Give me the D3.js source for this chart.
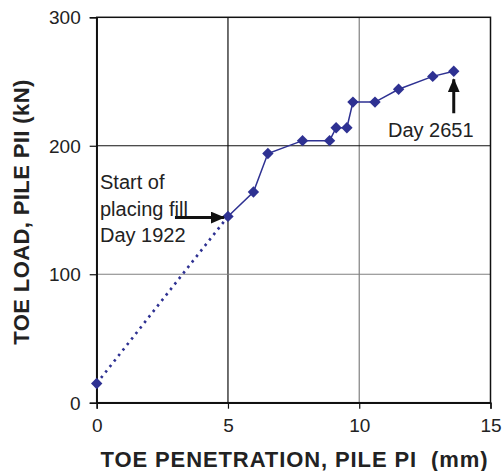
<!DOCTYPE html>
<html>
<head>
<meta charset="utf-8">
<script src="https://cdn.jsdelivr.net/npm/d3@7/dist/d3.min.js"></script>
<style>
  html, body { margin: 0; padding: 0; background: #fff; }
  svg { display: block; font-family: "Liberation Sans", Arial, sans-serif; }
</style>
</head>
<body>
<svg id="chart" width="503" height="471"></svg>
<script>
// Toe penetration (mm) vs toe load (kN)
const penetration = [0, 5, 5.97, 6.52, 7.84, 8.87, 9.12, 9.53, 9.76, 10.6, 11.5, 12.8, 13.6];
const toeLoad     = [15, 145, 164, 194, 204, 204, 214, 214, 234, 234, 244, 254, 258];
const xTicks = [0, 5, 10, 15];
const yTicks = [0, 100, 200, 300];
const xTitle = "TOE PENETRATION, PILE PI  (mm)";
const yTitle = "TOE LOAD, PILE PII (kN)";
const fillNote = ["Start of", "placing fill", "Day 1922"];
const endNote = "Day 2651";

const svg = d3.select("#chart");
const plot = { left: 96.7, right: 490.5, top: 17.3, bottom: 402.7 };

const x = d3.scaleLinear().domain([0, 15]).range([plot.left, plot.right]);
const y = d3.scaleLinear().domain([0, 300]).range([plot.bottom, plot.top]);

const blue = "#2e3192";

// grid
const grid = svg.append("g");
grid.selectAll(".vg").data(xTicks.slice(1, -1)).join("line")
  .attr("x1", d => x(d)).attr("x2", d => x(d))
  .attr("y1", plot.top).attr("y2", plot.bottom)
  .attr("stroke", (d, i) => i === 0 ? "#111" : "#808080").attr("stroke-width", 1.2);
grid.selectAll(".hg").data(yTicks.slice(1, -1)).join("line")
  .attr("x1", plot.left).attr("x2", plot.right)
  .attr("y1", d => y(d)).attr("y2", d => y(d))
  .attr("stroke", (d, i) => i === 0 ? "#808080" : "#111").attr("stroke-width", 1.2);

// frame
svg.append("rect").attr("x", plot.left).attr("y", plot.top)
  .attr("width", plot.right - plot.left).attr("height", plot.bottom - plot.top)
  .attr("fill", "none").attr("stroke", "#111").attr("stroke-width", 1.5);

// axes
const xAxis = svg.append("g").attr("transform", `translate(0,${plot.bottom})`)
  .call(d3.axisBottom(x).tickValues(xTicks).tickSize(6).tickPadding(10).tickFormat(d3.format("d")));
const yAxis = svg.append("g").attr("transform", `translate(${plot.left},0)`)
  .call(d3.axisLeft(y).tickValues(yTicks).tickSize(7).tickPadding(9).tickFormat(d3.format("d")));
[xAxis, yAxis].forEach(a => {
  a.select(".domain").attr("stroke", "#111").attr("stroke-width", 1.5);
  a.selectAll(".tick line").attr("stroke", "#111").attr("stroke-width", 1.2);
  a.selectAll(".tick text").attr("fill", "#222").attr("font-size", 19)
    .attr("font-family", "Liberation Sans, Arial, sans-serif");
});
yAxis.selectAll(".tick text").attr("dy", "0.35em");

// axis titles
svg.append("text").attr("x", 294.5).attr("y", 466.5)
  .attr("text-anchor", "middle").attr("font-size", 22).attr("font-weight", "bold")
  .attr("letter-spacing", 0.9)
  .attr("fill", "#222").style("white-space", "pre").text(xTitle);
svg.append("text").attr("transform", `translate(29,212) rotate(-90)`)
  .attr("text-anchor", "middle").attr("font-size", 22).attr("font-weight", "bold")
  .attr("letter-spacing", 0.4)
  .attr("fill", "#222").text(yTitle);

// series
const pts = penetration.map((p, i) => [p, toeLoad[i]]);
const line = d3.line().x(d => x(d[0])).y(d => y(d[1]));
svg.append("path").datum(pts.slice(0, 2)).attr("d", line)
  .attr("fill", "none").attr("stroke", blue).attr("stroke-width", 2.6)
  .attr("stroke-dasharray", "2.5,4.5");
svg.append("path").datum(pts.slice(1)).attr("d", line)
  .attr("fill", "none").attr("stroke", blue).attr("stroke-width", 1.5);
svg.append("g").selectAll("path").data(pts).join("path")
  .attr("transform", d => `translate(${x(d[0])},${y(d[1])})`)
  .attr("d", "M0,-5.7L5.7,0L0,5.7L-5.7,0Z")
  .attr("fill", blue);

// annotation arrows
const defs = svg.append("defs");
defs.append("marker").attr("id", "head").attr("viewBox", "0 0 14 12")
  .attr("refX", 13).attr("refY", 6).attr("markerWidth", 14).attr("markerHeight", 12)
  .attr("markerUnits", "userSpaceOnUse").attr("orient", "auto")
  .append("path").attr("d", "M0,0L14,6L0,12Z").attr("fill", "#111");

const note = svg.append("text").attr("font-size", 20).attr("fill", "#222");
fillNote.forEach((t, i) => note.append("tspan").attr("x", 100).attr("y", 189 + i * 26.5).text(t));

const start = pts[1];
svg.append("line")
  .attr("x1", x(start[0]) - 53).attr("x2", x(start[0]) - 4)
  .attr("y1", y(start[1]) + 1.2).attr("y2", y(start[1]) + 1.2)
  .attr("stroke", "#111").attr("stroke-width", 3).attr("marker-end", "url(#head)");

const last = pts[pts.length - 1];
svg.append("line")
  .attr("x1", x(last[0])).attr("x2", x(last[0]))
  .attr("y1", y(last[1]) + 42).attr("y2", y(last[1]) + 8)
  .attr("stroke", "#111").attr("stroke-width", 3).attr("marker-end", "url(#head)");
svg.append("text").attr("x", 388).attr("y", 137).attr("font-size", 20).attr("fill", "#222").text(endNote);
</script>
</body>
</html>
